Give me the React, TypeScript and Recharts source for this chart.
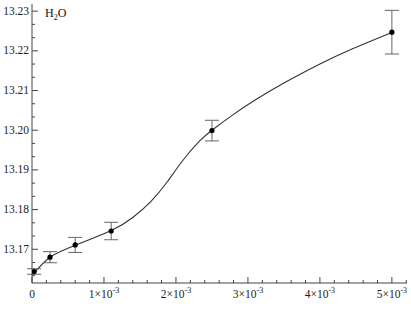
import React from 'react';
import { ComposedChart, Line, Scatter, ErrorBar, XAxis, YAxis } from 'recharts';

// measured points (x, value, symmetric error)
const pointX = [0.00003, 0.00025, 0.0006, 0.0011, 0.0025, 0.005];
const pointY = [13.1644, 13.168, 13.1711, 13.1746, 13.1999, 13.2247];
const pointErr = [0.0007, 0.0014, 0.0019, 0.0022, 0.0026, 0.0055];

// smooth fit curve
const fitX = [0, 0.00025, 0.0006, 0.0011, 0.0014, 0.00165, 0.00188, 0.0021, 0.00233, 0.0025, 0.0028, 0.0031, 0.0035, 0.004, 0.0044, 0.005];
const fitY = [13.1634, 13.168, 13.171, 13.1747, 13.178, 13.182, 13.187, 13.1925, 13.1973, 13.2, 13.204, 13.2076, 13.2119, 13.2167, 13.2201, 13.2246];

const xLabels = ['0', '1', '2', '3', '4', '5'];
const yMajor = [13.17, 13.18, 13.19, 13.2, 13.21, 13.22, 13.23];

const X_DOMAIN = [0, 0.00521];
const Y_DOMAIN = [13.1615, 13.2318];

const points = pointX.map((x, i) => ({ x, y: pointY[i], err: pointErr[i] }));
const fit = fitX.map((x, i) => ({ x, fy: fitY[i] }));

// minor ticks: 4 per major on x, 2 per major on y
const xTicks: number[] = [];
for (let i = 0; i <= 26; i++) xTicks.push(i * 0.0002);
const yTicks: number[] = [];
yMajor.forEach((m) => {
  yTicks.push(m - 0.01 / 3, m - 0.02 / 3, m);
});

const FONT = '"Liberation Serif", "Times New Roman", serif';
const AXIS = '#444';

const XTick = (props: any) => {
  const { x, y, payload } = props;
  const v = payload.value;
  const k = Math.round(v * 1000);
  const major = Math.abs(v * 1000 - k) < 1e-6;
  if (!major) return <line x1={x} y1={y} x2={x} y2={y - 3} stroke={AXIS} />;
  return (
    <g>
      <line x1={x} y1={y} x2={x} y2={y - 6} stroke={AXIS} />
      <text x={x} y={y + 15} textAnchor="middle" style={{ fontFamily: FONT, fontSize: 11.5, fill: '#222' }}>
        {k === 0 ? '0' : `${xLabels[k]}×10`}
        {k !== 0 && <tspan dy={-5} style={{ fontSize: 8 }}>-3</tspan>}
      </text>
    </g>
  );
};

const YTick = (props: any) => {
  const { x, y, payload } = props;
  const v = payload.value;
  const major = yMajor.some((m) => Math.abs(m - v) < 1e-6);
  if (!major) return <line x1={x} y1={y} x2={x + 3} y2={y} stroke={AXIS} />;
  return (
    <g>
      <line x1={x} y1={y} x2={x + 6} y2={y} stroke={AXIS} />
      <text x={x - 3} y={y + 3.5} textAnchor="end" style={{ fontFamily: FONT, fontSize: 11.5, fill: '#222' }}>
        {v.toFixed(2)}
      </text>
    </g>
  );
};

const Dot = (props: any) => <circle cx={props.cx} cy={props.cy} r={2.6} fill="#000" />;

export default function App() {
  return (
    <div style={{ position: 'absolute', left: 0, top: 0, width: 411, height: 318, background: '#fff' }}>
      <ComposedChart width={411} height={318} margin={{ top: 4, right: 4, bottom: 0, left: 0 }}>
        <XAxis
          xAxisId="b"
          type="number"
          dataKey="x"
          domain={X_DOMAIN}
          ticks={xTicks}
          interval={0}
          allowDataOverflow
          height={35}
          tickSize={0}
          tickMargin={0}
          tickLine={false}
          axisLine={{ stroke: AXIS }}
          tick={<XTick />}
        />
        <XAxis xAxisId="t" orientation="top" type="number" domain={X_DOMAIN} height={0} tick={false} tickLine={false} axisLine={{ stroke: AXIS }} />
        <YAxis
          yAxisId="l"
          type="number"
          domain={Y_DOMAIN}
          ticks={yTicks}
          interval={0}
          allowDataOverflow
          width={32}
          tickSize={0}
          tickMargin={0}
          tickLine={false}
          axisLine={{ stroke: AXIS }}
          tick={<YTick />}
        />
        <YAxis yAxisId="r" orientation="right" type="number" domain={Y_DOMAIN} width={0} tick={false} tickLine={false} axisLine={{ stroke: AXIS }} />
        <Line
          xAxisId="b"
          yAxisId="l"
          data={fit}
          dataKey="fy"
          type="natural"
          stroke="#333"
          strokeWidth={1.1}
          dot={false}
          isAnimationActive={false}
        />
        <Scatter xAxisId="b" yAxisId="l" data={points} dataKey="y" shape={<Dot />} isAnimationActive={false}>
          <ErrorBar dataKey="err" direction="y" width={7} stroke="#666" strokeWidth={1} />
        </Scatter>
      </ComposedChart>
      <div style={{ position: 'absolute', left: 45, top: 6, fontFamily: FONT, fontSize: 12, color: '#111' }}>
        H<sub style={{ fontSize: 8 }}>2</sub>O
      </div>
    </div>
  );
}
